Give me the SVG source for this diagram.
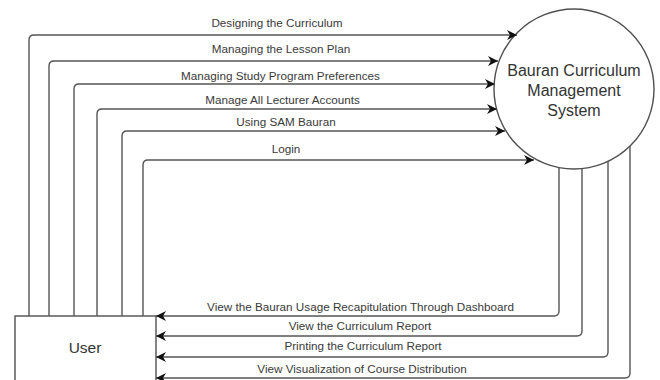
<svg xmlns="http://www.w3.org/2000/svg" width="660" height="380" viewBox="0 0 660 380">
  <style>
    .shape { fill: #ffffff; stroke: #505050; stroke-width: 1.4; }
    .flow { fill: none; stroke: #555555; stroke-width: 1.4; marker-end: url(#arrow); }
    .label { font-family: "Liberation Sans", Arial, sans-serif; font-size: 11.7px; fill: #3a3a3a; text-anchor: middle; }
    .title { font-family: "Liberation Sans", Arial, sans-serif; font-size: 16px; fill: #333333; text-anchor: middle; }
  </style>
  <defs>
    <marker id="arrow" viewBox="0 0 10 10" refX="10" refY="5" markerWidth="11" markerHeight="10" markerUnits="userSpaceOnUse" orient="auto">
      <path d="M0,0 L10,5 L0,10 L3,5 Z" fill="#111111"/>
    </marker>
  </defs>
  <rect width="660" height="380" fill="#ffffff"/>

  <!-- Process node -->
  <g id="system">
    <circle class="shape" cx="574" cy="89" r="80"/>
    <text class="title" x="574" y="76">Bauran Curriculum</text>
    <text class="title" x="574" y="96">Management</text>
    <text class="title" x="574" y="116">System</text>
  </g>

  <!-- External entity -->
  <g id="user">
    <rect class="shape" x="15" y="316" width="141" height="80"/>
    <text class="title" x="85" y="353" style="font-size:15.5px">User</text>
  </g>

  <!-- Data flows -->
  <g id="connectors">
    <!-- User to system -->
    <path class="flow" d="M29,316 V40 Q29,35 34,35 H517"/>
    <path class="flow" d="M49,316 V66 Q49,61 54,61 H498"/>
    <path class="flow" d="M74,316 V89 Q74,84 79,84 H495"/>
    <path class="flow" d="M97,316 V114 Q97,109 102,109 H497"/>
    <path class="flow" d="M122,316 V136 Q122,131 127,131 H505"/>
    <path class="flow" d="M143,316 V165 Q143,160 148,160 H534"/>
    <!-- System to user -->
    <path class="flow" d="M559,168 V311 Q559,316 554,316 H156"/>
    <path class="flow" d="M582,169 V331 Q582,336 577,336 H156"/>
    <path class="flow" d="M608,161 V352 Q608,357 603,357 H156"/>
    <path class="flow" d="M630,146 V373 Q630,378 625,378 H156"/>
  </g>

  <!-- Flow labels -->
  <g id="labels">
    <text class="label" x="277" y="27">Designing the Curriculum</text>
    <text class="label" x="281" y="53">Managing the Lesson Plan</text>
    <text class="label" x="280.5" y="80">Managing Study Program Preferences</text>
    <text class="label" x="282.5" y="104">Manage All Lecturer Accounts</text>
    <text class="label" x="286" y="126">Using SAM Bauran</text>
    <text class="label" x="286" y="153">Login</text>
    <text class="label" x="360.5" y="311">View the Bauran Usage Recapitulation Through Dashboard</text>
    <text class="label" x="360" y="330">View the Curriculum Report</text>
    <text class="label" x="363" y="350">Printing the Curriculum Report</text>
    <text class="label" x="362" y="373">View Visualization of Course Distribution</text>
  </g>
</svg>
